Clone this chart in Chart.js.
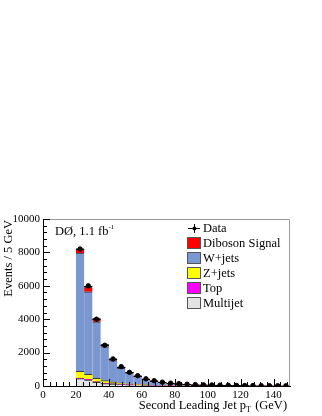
<!DOCTYPE html>
<html>
<head>
<meta charset="utf-8">
<script src="https://cdn.jsdelivr.net/npm/chart.js@4.4.1/dist/chart.umd.min.js"></script>
<style>
  html, body { margin: 0; padding: 0; background: #fff; }
  #wrap { width: 322px; height: 416px; position: relative; }
</style>
</head>
<body>
<div id="wrap"><canvas id="jetChart"></canvas></div>
<script>
// Bin centres (5 GeV bins, 20 - 150 GeV)
const binCenters = [22.5, 27.5, 32.5, 37.5, 42.5, 47.5, 52.5, 57.5, 62.5, 67.5, 72.5, 77.5, 82.5,
  87.5, 92.5, 97.5, 102.5, 107.5, 112.5, 117.5, 122.5, 127.5, 132.5, 137.5, 142.5, 147.5];

// Stacked backgrounds (bottom to top)
const multijet = [440, 360, 220, 140, 100, 70, 50, 38, 28, 20, 15, 12, 10, 8, 6, 5, 4, 4, 3, 3, 2, 2, 2, 2, 1, 1];
const topQuark = [30, 40, 40, 40, 40, 40, 35, 30, 25, 20, 16, 13, 10, 8, 7, 6, 5, 4, 4, 3, 3, 2, 2, 2, 2, 1];
const zJets = [410, 300, 200, 140, 100, 70, 50, 35, 25, 18, 13, 10, 8, 6, 5, 4, 3, 3, 2, 2, 2, 1, 1, 1, 1, 1];
const wJets = [7080, 4940, 3380, 2040, 1280, 880, 635, 472, 317, 237, 168, 121, 101, 74, 60, 49, 43, 35, 29, 24, 20, 19, 15, 13, 12, 11];
const diboson = [270, 280, 220, 140, 120, 90, 60, 45, 35, 25, 18, 14, 11, 9, 7, 6, 5, 4, 4, 3, 3, 2, 2, 2, 1, 1];

// Data points
const dataEvents = [8200, 6000, 4000, 2440, 1620, 1160, 820, 620, 430, 320, 230, 170, 140, 105, 85, 70, 60, 50, 42, 35, 30, 26, 22, 20, 17, 15];

const xTickValues = [0, 20, 40, 60, 80, 100, 120, 140];
const yTickValues = [0, 2000, 4000, 6000, 8000, 10000];

const serif = "'Liberation Serif', 'DejaVu Serif', serif";
const lineCol = '#3c3c3c';

function pts(arr) {
  return arr.map((v, i) => ({ x: binCenters[i], y: v }));
}

function barSet(label, arr, color) {
  return {
    type: 'bar',
    label: label,
    data: pts(arr),
    backgroundColor: color,
    borderColor: lineCol,
    borderWidth: { top: 1, left: 0, right: 0, bottom: 0 },
    borderSkipped: 'start',
    barPercentage: 1,
    categoryPercentage: 1,
    order: 1
  };
}

const datasets = [
  barSet('Multijet', multijet, '#e3e3e3'),
  barSet('Top', topQuark, '#ff00ff'),
  barSet('Z+jets', zJets, '#ffff00'),
  barSet('W+jets', wJets, '#7b97d1'),
  barSet('Diboson Signal', diboson, '#ff0000'),
  {
    type: 'scatter',
    label: 'Data',
    data: pts(dataEvents),
    backgroundColor: '#000',
    borderColor: '#000',
    pointRadius: 2.2,
    pointHoverRadius: 2.2,
    showLine: false,
    order: 0
  }
];

// legend order as in the figure
const legendOrder = ['Data', 'Diboson Signal', 'W+jets', 'Z+jets', 'Top', 'Multijet'];

// draws bin-width bars on data, the frame, inward ticks, titles and legend
const histoDecor = {
  id: 'histoDecor',
  afterDatasetsDraw(chart) {
    const ctx = chart.ctx;
    const xs = chart.scales.x;
    const ys = chart.scales.y;
    ctx.save();
    ctx.strokeStyle = '#000';
    ctx.lineWidth = 1;
    dataEvents.forEach((v, i) => {
      const y = Math.round(ys.getPixelForValue(v)) + 0.5;
      ctx.beginPath();
      ctx.moveTo(xs.getPixelForValue(binCenters[i] - 2.5), y);
      ctx.lineTo(xs.getPixelForValue(binCenters[i] + 2.5), y);
      ctx.stroke();
    });
    ctx.restore();
  },
  afterDraw(chart) {
    const ctx = chart.ctx;
    const a = chart.chartArea;
    const xs = chart.scales.x;
    const ys = chart.scales.y;
    ctx.save();

    // grey frame top / right
    ctx.strokeStyle = '#9a9a9a';
    ctx.lineWidth = 1;
    ctx.beginPath();
    ctx.moveTo(a.left, a.top + 0.5);
    ctx.lineTo(a.right - 0.5, a.top + 0.5);
    ctx.lineTo(a.right - 0.5, a.bottom);
    ctx.stroke();

    // inward ticks
    ctx.strokeStyle = '#000';
    ctx.beginPath();
    for (let v = 0; v <= 150; v += 4) {
      const px = Math.round(xs.getPixelForValue(v)) + 0.5;
      const len = (v % 20 === 0) ? 7 : 4;
      ctx.moveTo(px, a.bottom);
      ctx.lineTo(px, a.bottom - len);
    }
    for (let v = 0; v <= 10000; v += 400) {
      const py = Math.round(ys.getPixelForValue(v)) + 0.5;
      const len = (v % 2000 === 0) ? 7 : 4;
      ctx.moveTo(a.left, py);
      ctx.lineTo(a.left + len, py);
    }
    ctx.stroke();

    // axis titles
    ctx.fillStyle = '#000';
    ctx.font = '12.5px ' + serif;
    ctx.textAlign = 'right';
    ctx.textBaseline = 'alphabetic';
    ctx.fillText('Second Leading Jet p', a.right - 44, 409);
    ctx.textAlign = 'left';
    ctx.font = '8px ' + serif;
    ctx.fillText('T', a.right - 44, 412);
    ctx.font = '12.5px ' + serif;
    ctx.fillText(' (GeV)', a.right - 38, 409);

    ctx.save();
    ctx.translate(12, a.top + 1);
    ctx.rotate(-Math.PI / 2);
    ctx.textAlign = 'right';
    ctx.fillText('Events / 5 GeV', 0, 0);
    ctx.restore();

    // experiment label
    ctx.textAlign = 'left';
    ctx.font = '12.5px ' + serif;
    ctx.fillText('DØ, 1.1 fb', 55, 235);
    const wl = ctx.measureText('DØ, 1.1 fb').width;
    ctx.font = '7px ' + serif;
    ctx.fillText('-1', 55 + wl, 229);

    // legend
    const lx = 187, ly0 = 222;
    legendOrder.forEach((name, k) => {
      const ds = chart.data.datasets.find(d => d.label === name);
      const top = ly0 + k * 15;
      ctx.font = '12.5px ' + serif;
      ctx.fillStyle = '#000';
      if (name === 'Data') {
        ctx.strokeStyle = '#000';
        ctx.beginPath();
        ctx.moveTo(lx + 1, top + 6.5);
        ctx.lineTo(lx + 13, top + 6.5);
        ctx.moveTo(lx + 7.5, top + 2);
        ctx.lineTo(lx + 7.5, top + 11);
        ctx.stroke();
        ctx.beginPath();
        ctx.arc(lx + 7.5, top + 6.5, 2, 0, Math.PI * 2);
        ctx.fill();
      } else {
        ctx.fillStyle = ds.backgroundColor;
        ctx.fillRect(lx, top, 13, 11);
        ctx.strokeStyle = '#555';
        ctx.strokeRect(lx + 0.5, top + 0.5, 13, 11);
        ctx.fillStyle = '#000';
      }
      ctx.fillText(name, lx + 16, top + 10);
    });
    ctx.restore();
  }
};

const ctx = document.getElementById('jetChart').getContext('2d');
const jetChart = new Chart(ctx, {
  type: 'bar',
  data: { datasets: datasets },
  options: {
    responsive: true,
    maintainAspectRatio: false,
    animation: false,
    layout: { padding: { top: 219, right: 32, left: 0, bottom: 0 } },
    plugins: {
      legend: { display: false },
      tooltip: { enabled: false },
      title: { display: false }
    },
    scales: {
      x: {
        type: 'linear',
        stacked: true,
        offset: false,
        min: 0,
        max: 150,
        grid: { display: false, drawTicks: false, offset: false },
        border: { display: true, color: '#000', width: 1 },
        afterFit(s) { s.height = 30; },
        afterBuildTicks(s) { s.ticks = xTickValues.map(v => ({ value: v })); },
        ticks: {
          padding: 3,
          maxRotation: 0,
          autoSkip: false,
          color: '#000',
          font: { family: serif, size: 11 },
          callback: v => String(v)
        }
      },
      y: {
        stacked: true,
        min: 0,
        max: 10000,
        grid: { display: false, drawTicks: false },
        border: { display: true, color: '#000', width: 1 },
        afterFit(s) { s.width = 43; },
        afterBuildTicks(s) { s.ticks = yTickValues.map(v => ({ value: v })); },
        ticks: {
          padding: 3,
          color: '#000',
          font: { family: serif, size: 11 },
          callback: v => String(v)
        }
      }
    }
  },
  plugins: [histoDecor]
});
</script>
</body>
</html>
